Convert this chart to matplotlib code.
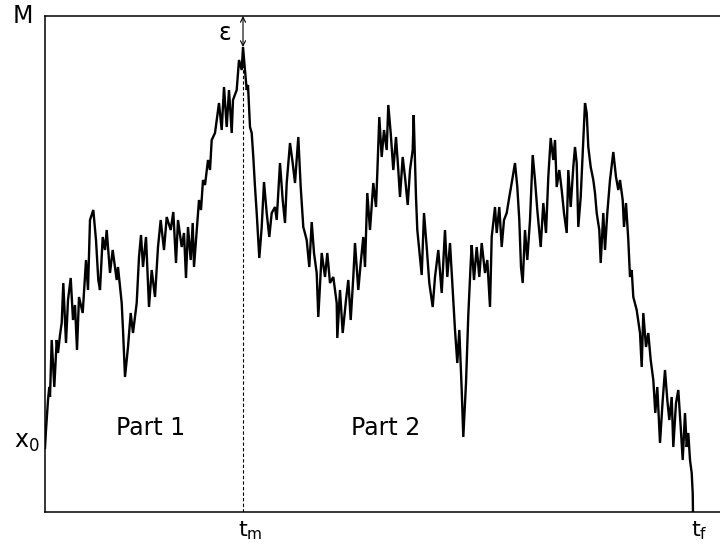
import matplotlib
matplotlib.use("Agg")
import matplotlib.pyplot as plt

# time (arbitrary units, t_f = 648, t_m = 198) and path level (M = 496)
t_vals = [0, 1, 1.7, 3, 4.3, 5, 6.7, 9.3, 11.7, 13, 15, 16.7, 18.3, 21, 23, 25.7, 28, 30, 32, 34,
          37.7, 41, 43, 45, 48.3, 51, 53.3, 55, 57.7, 60, 61.7, 65, 67.7, 71.7, 73, 76.7, 78, 80, 83, 85.7,
          88, 91.7, 94, 96, 98, 101, 104, 106.7, 110, 113, 115.7, 119, 121.7, 125.7, 128.3, 131, 133, 136.7, 139, 141,
          143, 145.7, 147.7, 149, 151.7, 154, 156, 158, 160, 163, 165, 166.7, 170, 171.7, 174, 176.7, 179, 181.7, 184, 186.7,
          188, 191.7, 194, 196.7, 198,
          200, 201.7, 203, 205, 206.7, 208.3, 210, 211.7, 213.3, 214.3, 216.7, 219, 221.7, 224.3, 226.7, 230, 231.7, 235, 237.7, 240,
          241.7, 245, 247.7, 250, 253.3, 255.7, 258.3, 261.7, 264.3, 266.7, 269, 271.7, 273.3, 276.7, 280, 282.3, 285, 288.3, 291.7, 292.3,
          295, 297.7, 301, 303.3, 305.7, 308.3, 310, 313.3, 315.7, 318.3, 320, 322.3, 325, 328.3, 331, 332.3, 334.3, 336.7, 339, 341.7,
          343.3, 345.7, 348.3, 351, 353.3, 355, 357.7, 360, 362.7, 365, 367.7, 368.7, 371, 372.3, 375, 376.7, 379, 381.7, 384.3, 387.7,
          390, 393.3, 396.7, 400, 402.3, 405, 407.7, 410, 412.3, 414.3, 416.7, 418.3, 421, 423.3, 425.7, 426.7, 429, 431.7, 434.3, 436.7,
          440, 442.3, 445, 446.7, 450, 451.7, 454.3, 456.7, 459, 461.7, 464.3, 466.7, 470, 472.3, 474.3, 476, 477.7, 480, 482.3, 485,
          487.7, 490, 492.3, 495.7, 498.3, 501, 503.3, 505.7, 508.3, 510, 511.7, 514.3, 516.7, 519, 521.7, 523.3, 525.7, 528.3, 530, 531.7,
          533.3, 535.7, 538.3, 540, 541.7, 543.3, 545.7, 548.3, 550, 551.7, 554.3, 555.7, 558.3, 560, 562.3, 565, 568.3, 571, 573.3, 575,
          577.7, 579, 581, 583.3, 585, 586.7, 588.3, 591.7, 595, 596.7, 598.3, 601, 603.3, 605.7, 608.3, 610.3, 612.3, 615, 617.7, 620,
          622.3, 624.3, 626.7, 628.3, 631, 633.3, 635.7, 637.7, 640, 641.7, 643.3, 645, 646.7, 647.7, 648]
x_vals = [64, 82, 92, 112, 125, 115, 172, 125, 172, 159, 177, 189, 229, 169, 212, 234, 192, 207, 162, 215,
          199, 252, 222, 292, 302, 272, 232, 222, 275, 262, 282, 239, 262, 232, 245, 209, 182, 135, 165, 199,
          179, 209, 255, 277, 245, 275, 205, 242, 215, 265, 292, 262, 295, 282, 300, 249, 292, 265, 279, 234,
          285, 252, 289, 245, 282, 312, 302, 332, 327, 352, 342, 372, 379, 392, 409, 382, 425, 385, 422, 379,
          412, 422, 452, 442, 465,
          442, 422, 427, 385, 379, 355, 325, 299, 272, 254, 285, 330, 299, 275, 299, 305, 292, 349, 312, 289,
          329, 369, 349, 329, 375, 325, 285, 272, 245, 290, 259, 239, 195, 259, 235, 259, 229, 235, 209, 174,
          222, 179, 212, 232, 192, 235, 269, 222, 249, 275, 245, 319, 282, 329, 305, 339, 395, 355, 382, 362,
          407, 379, 342, 375, 342, 315, 355, 335, 307, 342, 362, 397, 315, 282, 255, 237, 299, 265, 229, 205,
          235, 262, 219, 282, 235, 269, 222, 182, 149, 182, 122, 75, 129, 197, 249, 267, 232, 265, 235, 269,
          239, 252, 205, 275, 305, 279, 305, 265, 292, 299, 315, 329, 349, 325, 292, 245, 229, 282, 252, 292,
          357, 332, 302, 265, 309, 279, 335, 374, 352, 372, 325, 342, 322, 299, 279, 342, 305, 345, 365, 349,
          285, 315, 372, 409, 399, 365, 345, 332, 319, 299, 282, 249, 299, 262, 299, 332, 360, 335, 322, 332,
          312, 285, 309, 272, 235, 242, 215, 202, 179, 145, 199, 165, 179, 152, 132, 99, 125, 69, 112, 142,
          112, 92, 115, 65, 109, 122, 85, 52, 99, 65, 79, 52, 39, 19, 0]

t_m = 198
t_f = 648
level_M = 496
x_peak = 465

fig = plt.figure(figsize=(7.2, 5.46), dpi=100)
ax = fig.add_axes([45 / 720, 34 / 546, 675 / 720, 496 / 546])
ax.set_xlim(0, 675)
ax.set_ylim(0, level_M)

ax.plot(t_vals, x_vals, color="black", linewidth=1.7, solid_joinstyle="miter")
ax.plot([t_m, t_m], [0, x_peak], color="black", linewidth=0.8, linestyle=(0, (3, 2)))
ax.annotate("", xy=(t_m, level_M), xytext=(t_m, x_peak),
            arrowprops=dict(arrowstyle="<->", color="black", lw=0.8,
                            shrinkA=0, shrinkB=0, mutation_scale=9))

for s in ["left", "bottom", "top"]:
    ax.spines[s].set_linewidth(1.1)
ax.spines["right"].set_visible(False)
ax.set_xticks([])
ax.set_yticks([])

fs = 17
fam = ["DejaVu Sans"]
ax.annotate("M", xy=(0, level_M), xytext=(-22, 0), textcoords="offset pixels",
            ha="center", va="center", fontsize=fs, family=fam)
ax.annotate(r"$\mathregular{x_0}$", xy=(0, x_vals[0]), xytext=(-5, 6), textcoords="offset pixels",
            ha="right", va="center", fontsize=fs, family=fam)
ax.annotate(r"$\mathregular{t_m}$", xy=(t_m, 0), xytext=(-5, -7), textcoords="offset pixels",
            ha="left", va="top", fontsize=fs - 1, family=fam)
ax.annotate(r"$\mathregular{t_f}$", xy=(t_f, 0), xytext=(-2, -7), textcoords="offset pixels",
            ha="left", va="top", fontsize=fs - 1, family=fam)
ax.annotate("ε", xy=(t_m, level_M), xytext=(-18, -17), textcoords="offset pixels",
            ha="center", va="center", fontsize=fs, family=fam)
ax.text(106, 84, "Part 1", ha="center", va="center", fontsize=fs, family=fam)
ax.text(341, 84, "Part 2", ha="center", va="center", fontsize=fs, family=fam)

fig.savefig("out.png", dpi=100)
